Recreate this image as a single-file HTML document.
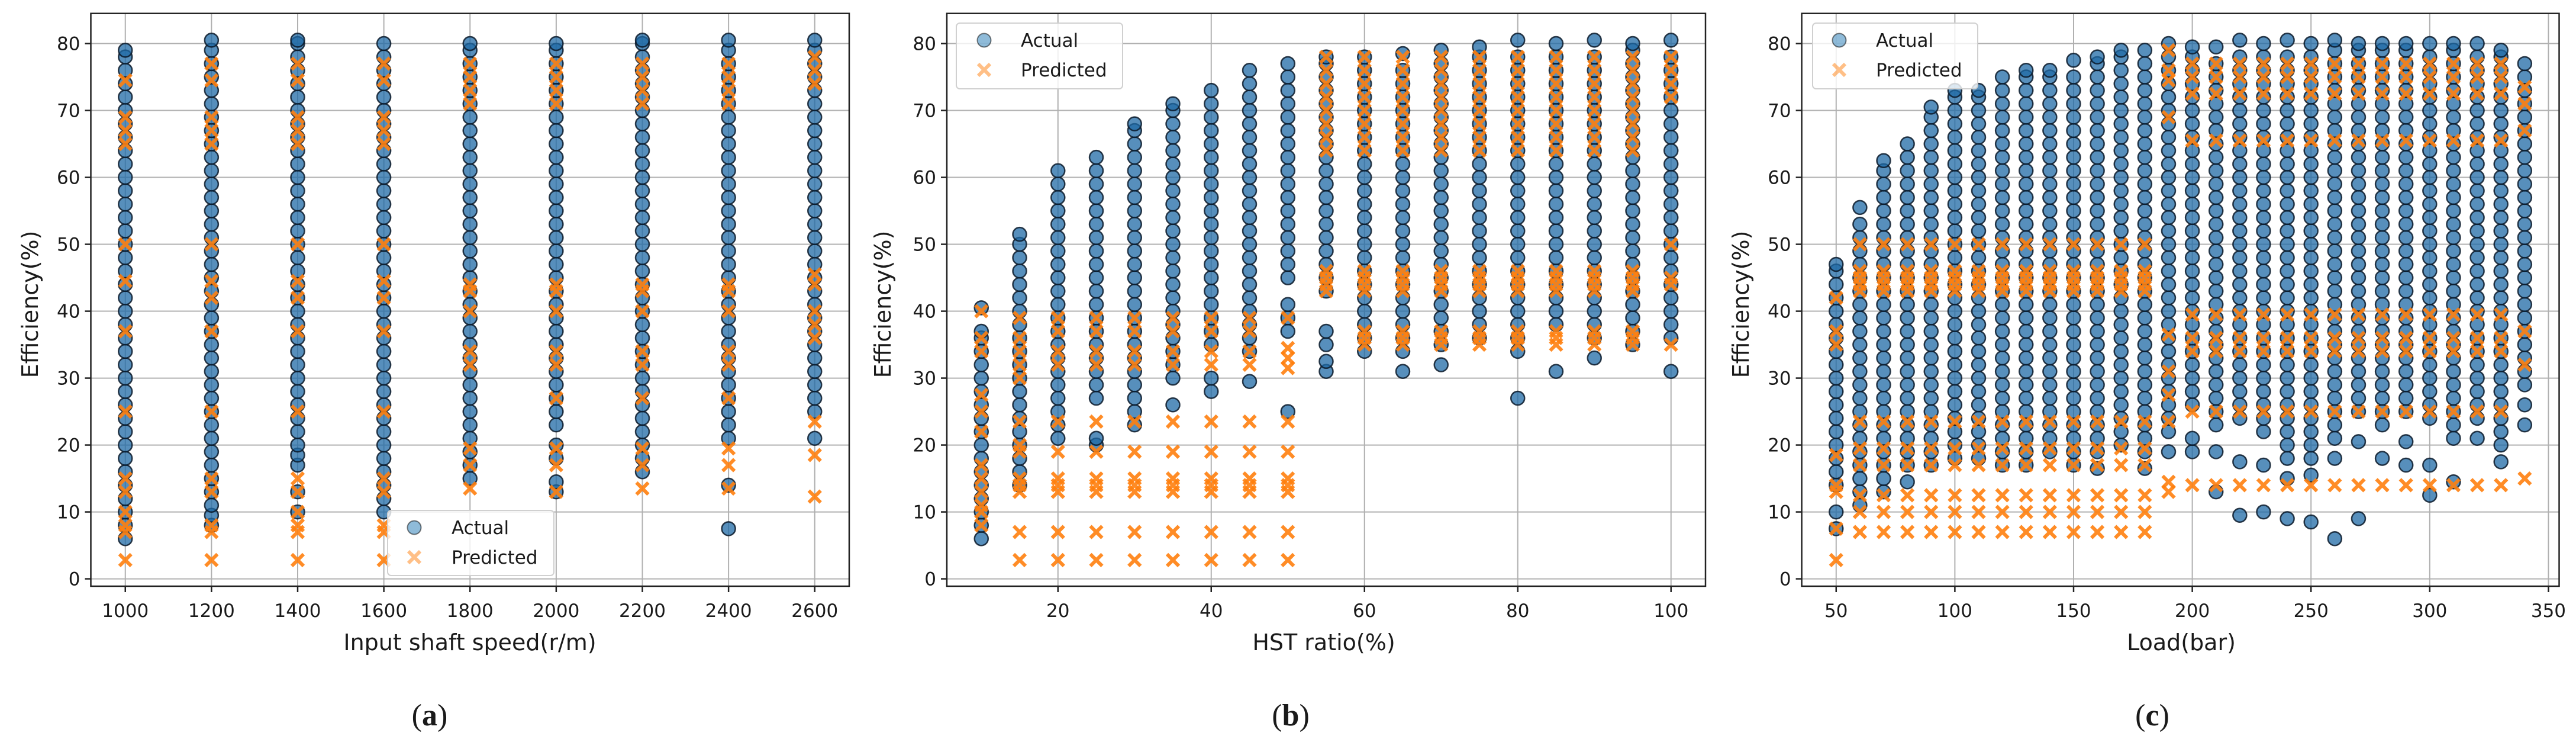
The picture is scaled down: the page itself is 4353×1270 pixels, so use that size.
<!DOCTYPE html>
<html><head><meta charset="utf-8">
<style>
html,body{margin:0;padding:0;background:#fff;}
svg{display:block;}
text{font-family:"DejaVu Sans","Liberation Sans",sans-serif;fill:#1a1a1a;}
.serif{font-family:"Liberation Serif","DejaVu Serif",serif;}
</style></head>
<body>
<svg id="fig" width="4353" height="1270" viewBox="0 0 4353 1270" xmlns="http://www.w3.org/2000/svg"></svg>
<script>
// ---------- Panel (a) data ----------
const catsA = [1000,1200,1400,1600,1800,2000,2200,2400,2600];
const xTicksA = [1000,1200,1400,1600,1800,2000,2200,2400,2600];
const actualA = [
 [6,8,10,12,14,16,18,20,22,24,26,28,30,32,34,36,38,40,42,44,46,48,50,52,54,56,58,60,62,64,66,68,70,72,74,76,78,79],
 [8,9.5,11,13,15,17,19,21,23,25,27,29,31,33,35,37,39,41,43,45,47,49,51,53,55,57,59,61,63,65,67,69,71,73,75,77,79,80.5],
 [10,13,17,18.5,20,22,24,26,28,30,32,34,36,38,40,42,44,46,48,50,52,54,56,58,60,62,64,66,68,70,72,74,76,78,80,80.5],
 [10,12,14,16,18,20,22,24,26,28,30,32,34,36,38,40,42,44,46,48,50,52,54,56,58,60,62,64,66,68,70,72,74,76,78,80],
 [15,17,19,21,23,25,27,29,31,33,35,37,39,41,43,45,47,49,51,53,55,57,59,61,63,65,67,69,71,73,75,77,79,80],
 [13,14.5,18,20,23,25,27,29,31,33,35,37,39,41,43,45,47,49,51,53,55,57,59,61,63,65,67,69,71,73,75,77,79,80],
 [16,18,20,22,24,26,28,30,32,34,36,38,40,42,44,46,48,50,52,54,56,58,60,62,64,66,68,70,72,74,76,78,80,80.5],
 [7.5,14,21,23,25,27,29,31,33,35,37,39,41,43,45,47,49,51,53,55,57,59,61,63,65,67,69,71,73,75,77,79,80.5],
 [21,25,27,29,31,33,35,37,39,41,43,45,47,49,51,53,55,57,59,61,63,65,67,69,71,73,75,77,79,80.5]
];
const predictedA = [
 [2.8,7,8,10,13,15,25,37,44.5,50,65,67,69,74.5],
 [2.8,7,8,13,15,25,37,42,44.5,50,65,67,69,74.5,77],
 [2.8,7,8,10,13,15,25,37,42,44.5,50,65,67,69,74.5,77],
 [2.8,7,8,13,15,25,37,42,44.5,50,65,67,69,74.5,77],
 [13.5,17,19.5,32,34,40,43,44,71,73,75,77],
 [13,17,19.5,27,32,34,40,43,44,71,73,75,77],
 [13.5,17,19.5,27,32,34,40,43,44,71,73,75,77],
 [13.5,17,19.5,27,32,34,40,43,44,71,73,75,77],
 [12.3,18.5,23.5,36,38,40,44,45.5,74,76,78]
];
// ---------- Panel (b) data ----------
const catsB = [10,15,20,25,30,35,40,45,50,55,60,65,70,75,80,85,90,95,100];
const xTicksB = [20,40,60,80,100];
const actualB = [
 [6,8,10,12,14,16,18,20,22,24,26,28,30,32,34,36,37,40.5],
 [14,16,18,20,22,24,26,28,30,32,34,36,38,40,42,44,46,48,50,51.5],
 [21,23,25,27,29,31,33,35,37,39,41,43,45,47,49,51,53,55,57,59,61],
 [20,21,27,29,31,33,35,37,39,41,43,45,47,49,51,53,55,57,59,61,63],
 [23,25,27,29,31,33,35,37,39,41,43,45,47,49,51,53,55,57,59,61,63,65,67,68],
 [26,30,32,34,36,38,40,42,44,46,48,50,52,54,56,58,60,62,64,66,68,70,71],
 [28,30,35,37,39,41,43,45,47,49,51,53,55,57,59,61,63,65,67,69,71,73],
 [29.5,34,36,38,40,42,44,46,48,50,52,54,56,58,60,62,64,66,68,70,72,74,76],
 [25,37,39,41,45,47,49,51,53,55,57,59,61,63,65,67,69,71,73,75,77],
 [31,32.5,35,37,43,45,47,49,51,53,55,57,59,61,63,65,67,69,71,73,75,77,78],
 [34,36,38,40,42,44,46,48,50,52,54,56,58,60,62,64,66,68,70,72,74,76,78],
 [31,34,36,38,40,42,44,46,48,50,52,54,56,58,60,62,64,66,68,70,72,74,76,78.5],
 [32,35,37,39,41,43,45,47,49,51,53,55,57,59,61,63,65,67,69,71,73,75,77,79],
 [36,38,40,42,44,46,48,50,52,54,56,58,60,62,64,66,68,70,72,74,76,78,79.5],
 [27,34,36,38,40,42,44,46,48,50,52,54,56,58,60,62,64,66,68,70,72,74,76,78,80.5],
 [31,38,40,42,44,46,48,50,52,54,56,58,60,62,64,66,68,70,72,74,76,78,80],
 [33,36,38,40,42,44,46,48,50,52,54,56,58,60,62,64,66,68,70,72,74,76,78,80.5],
 [35,37,39,41,43,45,47,49,51,53,55,57,59,61,63,65,67,69,71,73,75,77,79,80],
 [31,36,38,40,42,44,46,48,50,52,54,56,58,60,62,64,66,68,70,72,74,76,78,80.5]
];
const predictedB = [
 [8,10,11,13,15,17,22,25,27.5,34,36,40],
 [2.8,7,13,14,15,19,20,23.5,30,32,34,36,39],
 [2.8,7,13,14,15,19,23.5,32,34,37,39],
 [2.8,7,13,14,15,19,23.5,32,34,37,39],
 [2.8,7,13,14,15,19,23.5,32,34,37,39],
 [2.8,7,13,14,15,19,23.5,32,34,37,39],
 [2.8,7,13,14,15,19,23.5,32,34,37,39],
 [2.8,7,13,14,15,19,23.5,32,34,37,39],
 [2.8,7,13,14,15,19,23.5,31.5,33,34.5,39],
 [43,44,45,46,64,66,68,70,72,74,76,78],
 [35,36,37,43,44,45,46,64,66,68,70,72,74,76,78],
 [35,36,37,43,44,45,46,64,66,68,70,72,74,76,78],
 [35,36,37,43,44,45,46,64,66,68,70,72,74,76,78],
 [35,36,37,43,44,45,46,64,66,68,70,72,74,76,78],
 [35,36,37,43,44,45,46,64,66,68,70,72,74,76,78],
 [35,36,37,43,44,45,46,64,66,68,70,72,74,76,78],
 [35,36,37,43,44,45,46,64,66,68,70,72,74,76,78],
 [35,36,37,43,44,45,46,64,66,68,70,72,74,76,78],
 [35,44,45,50,72,74,76,78]
];
// ---------- Panel (c) data ----------
const catsC = [50,60,70,80,90,100,110,120,130,140,150,160,170,180,190,200,210,220,230,240,250,260,270,280,290,300,310,320,330,340];
const xTicksC = [50,100,150,200,250,300,350];
const actualC = [
 [7.5,10,14,16,18,20,22,24,26,28,30,32,34,36,38,40,42,44,46,47],
 [11,13,15,17,19,21,23,25,27,29,31,33,35,37,39,41,43,45,47,49,51,53,55.5],
 [13,15,17,19,21,23,25,27,29,31,33,35,37,39,41,43,45,47,49,51,53,55,57,59,61,62.5],
 [14.5,17,19,21,23,25,27,29,31,33,35,37,39,41,43,45,47,49,51,53,55,57,59,61,63,65],
 [17,19,21,23,25,27,29,31,33,35,37,39,41,43,45,47,49,51,53,55,57,59,61,63,65,67,69,70.5],
 [18,20,22,24,26,28,30,32,34,36,38,40,42,44,46,48,50,52,54,56,58,60,62,64,66,68,70,72,73],
 [18,20,22,24,26,28,30,32,34,36,38,40,42,44,46,48,50,52,54,56,58,60,62,64,66,68,70,72,73],
 [17,19,21,23,25,27,29,31,33,35,37,39,41,43,45,47,49,51,53,55,57,59,61,63,65,67,69,71,73,75],
 [17,19,21,23,25,27,29,31,33,35,37,39,41,43,45,47,49,51,53,55,57,59,61,63,65,67,69,71,73,75,76],
 [19,21,23,25,27,29,31,33,35,37,39,41,43,45,47,49,51,53,55,57,59,61,63,65,67,69,71,73,75,76],
 [17,19,21,23,25,27,29,31,33,35,37,39,41,43,45,47,49,51,53,55,57,59,61,63,65,67,69,71,73,75,77.5],
 [16.5,19,21,23,25,27,29,31,33,35,37,39,41,43,45,47,49,51,53,55,57,59,61,63,65,67,69,71,73,75,77,78],
 [20,22,24,26,28,30,32,34,36,38,40,42,44,46,48,50,52,54,56,58,60,62,64,66,68,70,72,74,76,78,79],
 [16.5,19,21,23,25,27,29,31,33,35,37,39,41,43,45,47,49,51,53,55,57,59,61,63,65,67,69,71,73,75,77,79],
 [19,22,24,26,28,30,32,34,36,38,40,42,44,46,48,50,52,54,56,58,60,62,64,66,68,70,72,74,76,78,80],
 [19,21,26,28,30,32,34,36,38,40,42,44,46,48,50,52,54,56,58,60,62,64,66,68,70,72,74,76,78,79.5],
 [13,19,23,25,27,29,31,33,35,37,39,41,43,45,47,49,51,53,55,57,59,61,63,65,67,69,71,73,75,77,79.5],
 [9.5,17.5,24,26,28,30,32,34,36,38,40,42,44,46,48,50,52,54,56,58,60,62,64,66,68,70,72,74,76,78,80.5],
 [10,17,22,24,26,28,30,32,34,36,38,40,42,44,46,48,50,52,54,56,58,60,62,64,66,68,70,72,74,76,78,80],
 [9,15,18,20,22,24,26,28,30,32,34,36,38,40,42,44,46,48,50,52,54,56,58,60,62,64,66,68,70,72,74,76,78,80.5],
 [8.5,15.5,18,20,22,24,26,28,30,32,34,36,38,40,42,44,46,48,50,52,54,56,58,60,62,64,66,68,70,72,74,76,78,80],
 [6,18,21,23,25,27,29,31,33,35,37,39,41,43,45,47,49,51,53,55,57,59,61,63,65,67,69,71,73,75,77,79,80.5],
 [9,20.5,25,27,29,31,33,35,37,39,41,43,45,47,49,51,53,55,57,59,61,63,65,67,69,71,73,75,77,79,80],
 [18,23,25,27,29,31,33,35,37,39,41,43,45,47,49,51,53,55,57,59,61,63,65,67,69,71,73,75,77,79,80],
 [17,20.5,25,27,29,31,33,35,37,39,41,43,45,47,49,51,53,55,57,59,61,63,65,67,69,71,73,75,77,79,80],
 [12.5,17,24,26,28,30,32,34,36,38,40,42,44,46,48,50,52,54,56,58,60,62,64,66,68,70,72,74,76,78,80],
 [14.5,21,23,25,27,29,31,33,35,37,39,41,43,45,47,49,51,53,55,57,59,61,63,65,67,69,71,73,75,77,79,80],
 [21,24,26,28,30,32,34,36,38,40,42,44,46,48,50,52,54,56,58,60,62,64,66,68,70,72,74,76,78,80],
 [17.5,20,22,24,26,28,30,32,34,36,38,40,42,44,46,48,50,52,54,56,58,60,62,64,66,68,70,72,74,76,78,79],
 [23,26,29,31,33,35,37,39,41,43,45,47,49,51,53,55,57,59,61,63,65,67,69,71,73,75,77]
];
const predictedC = [
 [2.8,7.5,13,14,18.5,35,37,42],
 [7,10,12.5,17,19.5,23.5,43,44,45,46,50],
 [7,10,12.5,17,19.5,23.5,43,44,45,46,50],
 [7,10,12.5,17,19.5,23.5,43,44,45,46,50],
 [7,10,12.5,17,19.5,23.5,43,44,45,46,50],
 [7,10,12.5,17,19.5,23.5,43,44,45,46,50],
 [7,10,12.5,17,19.5,23.5,43,44,45,46,50],
 [7,10,12.5,17,19.5,23.5,43,44,45,46,50],
 [7,10,12.5,17,19.5,23.5,43,44,45,46,50],
 [7,10,12.5,17,19.5,23.5,43,44,45,46,50],
 [7,10,12.5,17,19.5,23.5,43,44,45,46,50],
 [7,10,12.5,17,19.5,23.5,43,44,45,46,50],
 [7,10,12.5,17,19.5,23.5,43,44,45,46,50],
 [7,10,12.5,17,19.5,23.5,43,44,45,46,50],
 [13,14.5,23.5,27.5,31,36.5,69,74.5,76,79],
 [14,25,34,36,39.5,65.5,72.5,75,77],
 [14,25,34,36,39.5,65.5,72.5,75,77],
 [14,25,34,36,39.5,65.5,72.5,75,77],
 [14,25,34,36,39.5,65.5,72.5,75,77],
 [14,25,34,36,39.5,65.5,72.5,75,77],
 [14,25,34,36,39.5,65.5,72.5,75,77],
 [14,25,34,36,39.5,65.5,72.5,75,77],
 [14,25,34,36,39.5,65.5,72.5,75,77],
 [14,25,34,36,39.5,65.5,72.5,75,77],
 [14,25,34,36,39.5,65.5,72.5,75,77],
 [14,25,34,36,39.5,65.5,72.5,75,77],
 [14,25,34,36,39.5,65.5,72.5,75,77],
 [14,25,34,36,39.5,65.5,72.5,75,77],
 [14,25,34,36,39.5,65.5,72.5,75,77],
 [15,32,37,67,71,73.5]
];
const yTicks = [0,10,20,30,40,50,60,70,80];

const NS = "http://www.w3.org/2000/svg";
const svg = document.getElementById('fig');
function mk(tag, attrs, parent){
  const e = document.createElementNS(NS, tag);
  for (const k in attrs) e.setAttribute(k, attrs[k]);
  (parent||svg).appendChild(e);
  return e;
}
function drawX(g, cx, cy, s, op){
  return mk('path', {d:`M${cx-s},${cy-s}L${cx+s},${cy+s}M${cx-s},${cy+s}L${cx+s},${cy-s}`, stroke:'#ff7f0e', 'stroke-width':6, 'stroke-opacity':op, fill:'none'}, g);
}
function panel(cfg){
  const {id,left,right,top,bottom,xmin,xmax,cats,xticks,actual,pred,xlabel,letter,ylabX,xlabX,letterX,legend} = cfg;
  const ymin=-1.1, ymax=84.5;
  const X = v => left + (v-xmin)/(xmax-xmin)*(right-left);
  const Y = v => bottom - (v-ymin)/(ymax-ymin)*(bottom-top);
  const g = mk('g', {});
  
  
  const grid = mk('g', {}, g);
  
  
  xticks.forEach(t=>{ mk('line',{x1:X(t),x2:X(t),y1:top,y2:bottom,stroke:'#b0b0b0','stroke-width':2},grid); });
  yTicks.forEach(t=>{ mk('line',{x1:left,x2:right,y1:Y(t),y2:Y(t),stroke:'#b0b0b0','stroke-width':2},grid); });
  const ga = mk('g', {}, g);
  
  
  cats.forEach((c,i)=>{
    actual[i].forEach(v=>{
      const el = mk('circle',{cx:X(c),cy:Y(v),r:11.5,fill:'#1f6aa5','fill-opacity':0.75,stroke:'#0b1a2a','stroke-opacity':0.85,'stroke-width':2.5},ga);
      
      
    });
  });
  const gp = mk('g', {}, g);
  
  
  cats.forEach((c,i)=>{
    pred[i].forEach(v=>{
      const el = drawX(gp, X(c), Y(v), 10, 0.9);
      
      
    });
  });
  const sp = mk('rect',{x:left,y:top,width:right-left,height:bottom-top,fill:'none',stroke:'#222','stroke-width':2.5},g);
  
  
  yTicks.forEach(t=>{
    mk('line',{x1:left-10,x2:left,y1:Y(t),y2:Y(t),stroke:'#222','stroke-width':2.5},g);
    const tx = mk('text',{x:left-18,y:Y(t)+11,'text-anchor':'end','font-size':31},g);
    tx.textContent = t;
    
    
  });
  xticks.forEach(t=>{
    mk('line',{x1:X(t),x2:X(t),y1:bottom,y2:bottom+10,stroke:'#222','stroke-width':2.5},g);
    const tx = mk('text',{x:X(t),y:bottom+52,'text-anchor':'middle','font-size':31},g);
    tx.textContent = t;
    
    
  });
  const yl = mk('text',{x:ylabX,y:514,'text-anchor':'middle','font-size':38,transform:`rotate(-90 ${ylabX} 514)`,dy:13},g);
  yl.textContent = 'Efficiency(%)';
  
  
  const xl = mk('text',{x:xlabX,y:1098,'text-anchor':'middle','font-size':38},g);
  xl.textContent = xlabel;
  
  
  const lt = mk('text',{x:letterX,y:1225,'text-anchor':'middle','font-size':52,class:'serif'},g);
  lt.innerHTML = '(<tspan font-weight="bold">'+letter+'</tspan>)';
  
  
  const lg = mk('g',{},g);
  
  
  mk('rect',{x:legend.x0,y:legend.y0,width:legend.x1-legend.x0,height:legend.y1-legend.y0,rx:6,fill:'#fff','fill-opacity':0.8,stroke:'#d0d0d0','stroke-width':2},lg);
  const e1 = mk('circle',{cx:legend.mx,cy:legend.y0+29,r:11.5,fill:'#1f77b4','fill-opacity':0.5,stroke:'#000','stroke-opacity':0.5,'stroke-width':2},lg);
  
  
  const t1 = mk('text',{x:legend.tx,y:legend.y0+40,'font-size':31},lg); t1.textContent='Actual';
  drawX(lg, legend.mx, legend.y0+79, 10, 0.5);
  const t2 = mk('text',{x:legend.tx,y:legend.y0+90,'font-size':31},lg); t2.textContent='Predicted';
  
  
}
panel({id:'a',left:153.5,right:1435,top:22.7,bottom:990,xmin:920,xmax:2680,cats:catsA,xticks:xTicksA,actual:actualA,pred:predictedA,
  xlabel:'Input shaft speed(r/m)',letter:'a',ylabX:51,xlabX:794,letterX:726,legend:{x0:655,x1:936,y0:862,y1:972,mx:700,tx:763}});
panel({id:'b',left:1600,right:2882,top:22.7,bottom:990,xmin:5.5,xmax:104.5,cats:catsB,xticks:xTicksB,actual:actualB,pred:predictedB,
  xlabel:'HST ratio(%)',letter:'b',ylabX:1492,xlabX:2237,letterX:2181,legend:{x0:1616,x1:1897,y0:39,y1:150,mx:1663,tx:1725}});
panel({id:'c',left:3044.6,right:4324.5,top:22.7,bottom:990,xmin:35.5,xmax:354.5,cats:catsC,xticks:xTicksC,actual:actualC,pred:predictedC,
  xlabel:'Load(bar)',letter:'c',ylabX:2942,xlabX:3686,letterX:3637,legend:{x0:3063,x1:3342,y0:39,y1:150,mx:3108,tx:3170}});
</script>
</body></html>
